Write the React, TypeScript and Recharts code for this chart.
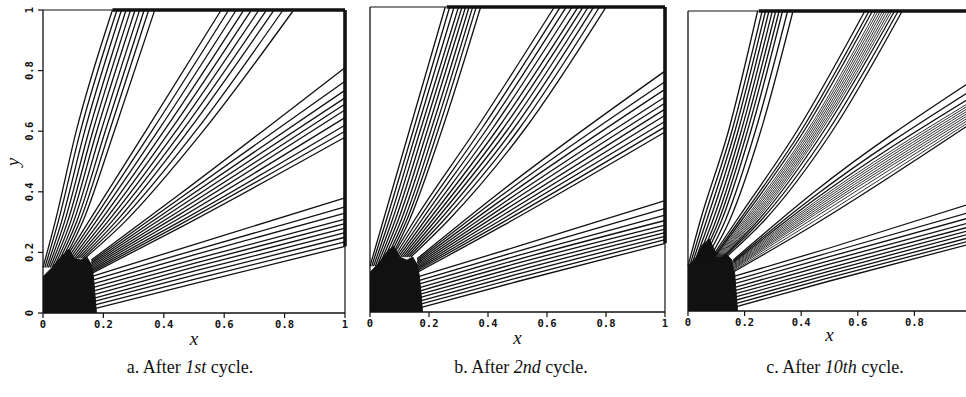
import React from 'react';
import { ComposedChart, Line, Area, XAxis, YAxis } from 'recharts';

type Pt = { x: number; y: number };

const axisTicks = [0, 0.2, 0.4, 0.6, 0.8, 1];
const cutTicks = [0, 0.2, 0.4, 0.6, 0.8];

// a. After 1st cycle
// steep fan (ends on top edge): x at y = 0.15 / 0.3 / 0.6 / 1
const aSteepFoot = [0.0, 0.006, 0.012, 0.018, 0.024, 0.03, 0.036, 0.042, 0.048, 0.055];
const aSteepLow = [0.04, 0.05, 0.061, 0.071, 0.081, 0.091, 0.101, 0.111, 0.121, 0.131];
const aSteepMid = [0.11, 0.124, 0.138, 0.152, 0.165, 0.178, 0.192, 0.206, 0.22, 0.236];
const aSteepTop = [0.23, 0.245, 0.26, 0.275, 0.29, 0.305, 0.32, 0.335, 0.35, 0.37];
// diagonal fan: x at y = 0.18 / 0.3 / 0.6 / 1
const aDiagFoot = [0.075, 0.082, 0.089, 0.096, 0.103, 0.11, 0.117, 0.124, 0.131, 0.138];
const aDiagLow = [0.15, 0.162, 0.174, 0.187, 0.2, 0.213, 0.226, 0.24, 0.254, 0.27];
const aDiagMid = [0.34, 0.36, 0.38, 0.4, 0.42, 0.44, 0.46, 0.48, 0.505, 0.53];
const aDiagTop = [0.59, 0.615, 0.64, 0.665, 0.69, 0.715, 0.74, 0.765, 0.795, 0.83];
// upper flat fan (ends on right edge): y at x = 0.16 / 0.45 / 1
const aUpperFoot = [0.175, 0.17, 0.165, 0.16, 0.155, 0.15, 0.145, 0.14, 0.135, 0.13];
const aUpperMid = [0.39, 0.376, 0.362, 0.349, 0.336, 0.324, 0.312, 0.3, 0.29, 0.28];
const aUpperEnd = [0.81, 0.765, 0.735, 0.71, 0.69, 0.67, 0.645, 0.62, 0.6, 0.58];
// lower flat fan: y at x = 0.165 / 0.5 / 1
const aLowerFoot = [0.122, 0.109, 0.096, 0.084, 0.072, 0.06, 0.048, 0.037, 0.025, 0.013];
const aLowerMid = [0.226, 0.207, 0.192, 0.177, 0.164, 0.151, 0.138, 0.125, 0.111, 0.097];
const aLowerEnd = [0.38, 0.35, 0.33, 0.31, 0.295, 0.28, 0.265, 0.25, 0.235, 0.22];
// dark knot of contours near the origin (upper outline)
const aBlob: Pt[] = [
  { x: 0, y: 0.12 }, { x: 0.03, y: 0.15 }, { x: 0.06, y: 0.185 }, { x: 0.085, y: 0.21 },
  { x: 0.105, y: 0.18 }, { x: 0.125, y: 0.175 }, { x: 0.145, y: 0.185 }, { x: 0.16, y: 0.16 },
  { x: 0.167, y: 0.12 }, { x: 0.172, y: 0.06 }, { x: 0.177, y: 0 },
];

// b. After 2nd cycle
const bSteepFoot = [0.0, 0.006, 0.012, 0.018, 0.024, 0.03, 0.036, 0.042, 0.048, 0.055];
const bSteepLow = [0.045, 0.055, 0.065, 0.075, 0.085, 0.095, 0.105, 0.115, 0.124, 0.133];
const bSteepMid = [0.135, 0.148, 0.16, 0.172, 0.184, 0.196, 0.208, 0.22, 0.232, 0.245];
const bSteepTop = [0.255, 0.27, 0.285, 0.3, 0.312, 0.324, 0.336, 0.348, 0.36, 0.375];
const bDiagFoot = [0.075, 0.082, 0.089, 0.096, 0.103, 0.11, 0.117, 0.124, 0.131, 0.138];
const bDiagLow = [0.15, 0.162, 0.174, 0.186, 0.198, 0.21, 0.222, 0.235, 0.249, 0.265];
const bDiagMid = [0.36, 0.378, 0.396, 0.414, 0.432, 0.45, 0.468, 0.486, 0.505, 0.525];
const bDiagTop = [0.625, 0.645, 0.665, 0.685, 0.705, 0.722, 0.74, 0.758, 0.778, 0.8];
const bUpperFoot = [0.175, 0.17, 0.165, 0.16, 0.155, 0.15, 0.145, 0.14, 0.135, 0.13];
const bUpperMid = [0.4, 0.385, 0.37, 0.356, 0.343, 0.33, 0.317, 0.305, 0.294, 0.283];
const bUpperEnd = [0.79, 0.755, 0.73, 0.705, 0.685, 0.665, 0.645, 0.625, 0.607, 0.59];
const bLowerFoot = [0.116, 0.103, 0.091, 0.079, 0.068, 0.057, 0.046, 0.035, 0.024, 0.013];
const bLowerMid = [0.215, 0.199, 0.185, 0.172, 0.16, 0.148, 0.136, 0.124, 0.112, 0.1];
const bLowerEnd = [0.365, 0.34, 0.318, 0.3, 0.285, 0.272, 0.26, 0.248, 0.237, 0.225];
const bBlob: Pt[] = [
  { x: 0, y: 0.13 }, { x: 0.03, y: 0.16 }, { x: 0.06, y: 0.2 }, { x: 0.08, y: 0.215 },
  { x: 0.1, y: 0.18 }, { x: 0.125, y: 0.17 }, { x: 0.145, y: 0.18 }, { x: 0.16, y: 0.155 },
  { x: 0.167, y: 0.12 }, { x: 0.173, y: 0.06 }, { x: 0.178, y: 0 },
];

// c. After 10th cycle (dense grey cores in the two middle fans)
const cSteepFoot = [0.0, 0.006, 0.012, 0.018, 0.024, 0.03, 0.036, 0.042, 0.05, 0.058];
const cSteepLow = [0.043, 0.054, 0.065, 0.076, 0.087, 0.098, 0.108, 0.118, 0.131, 0.146];
const cSteepMid = [0.143, 0.155, 0.166, 0.177, 0.188, 0.199, 0.21, 0.222, 0.238, 0.257];
const cSteepTop = [0.246, 0.262, 0.274, 0.286, 0.298, 0.31, 0.322, 0.334, 0.352, 0.371];
const cDiagFoot = [0.085, 0.09, 0.094, 0.098, 0.101, 0.104, 0.107, 0.11, 0.113, 0.116, 0.119, 0.123, 0.128, 0.135];
const cDiagLow = [0.17, 0.18, 0.188, 0.196, 0.202, 0.208, 0.214, 0.22, 0.226, 0.232, 0.238, 0.246, 0.256, 0.268];
const cDiagMid = [0.385, 0.399, 0.41, 0.421, 0.428, 0.435, 0.442, 0.449, 0.456, 0.463, 0.47, 0.48, 0.495, 0.51];
const cDiagTop = [0.625, 0.64, 0.652, 0.664, 0.672, 0.68, 0.688, 0.696, 0.704, 0.712, 0.72, 0.73, 0.743, 0.757];
const cUpperFoot = [0.17, 0.166, 0.162, 0.159, 0.156, 0.153, 0.15, 0.147, 0.144, 0.141, 0.138, 0.134, 0.13];
const cUpperMid = [0.4, 0.385, 0.373, 0.364, 0.357, 0.35, 0.343, 0.336, 0.329, 0.322, 0.313, 0.302, 0.29];
const cUpperEnd = [0.765, 0.735, 0.712, 0.698, 0.69, 0.682, 0.674, 0.666, 0.658, 0.65, 0.642, 0.634, 0.625];
const cLowerFoot = [0.116, 0.103, 0.091, 0.079, 0.068, 0.057, 0.046, 0.035, 0.024, 0.013];
const cLowerMid = [0.21, 0.195, 0.181, 0.168, 0.156, 0.144, 0.133, 0.122, 0.111, 0.1];
const cLowerEnd = [0.358, 0.33, 0.312, 0.296, 0.282, 0.27, 0.258, 0.246, 0.235, 0.224];
const cBlob: Pt[] = [
  { x: 0, y: 0.15 }, { x: 0.03, y: 0.18 }, { x: 0.05, y: 0.22 }, { x: 0.075, y: 0.24 },
  { x: 0.095, y: 0.2 }, { x: 0.115, y: 0.185 }, { x: 0.135, y: 0.19 }, { x: 0.155, y: 0.17 },
  { x: 0.165, y: 0.125 }, { x: 0.17, y: 0.06 }, { x: 0.175, y: 0 },
];

// where the contours pile up on the top / right edge
const topPileStart = { a: 0.23, b: 0.26, c: 0.25 };
const rightPileFrom = { a: 0.22, b: 0.225, c: 0.224 };

// ---- builders ----
const steep = (foot: number[], footY: number, low: number[], mid: number[], top: number[]): Pt[][] =>
  top.map((_, i) => [
    { x: foot[i], y: footY },
    { x: low[i], y: 0.3 },
    { x: mid[i], y: 0.6 },
    { x: top[i], y: 1 },
  ]);

const flat = (foot: number[], footX: number, mid: number[], midX: number, end: number[]): Pt[][] =>
  end.map((_, i) => [
    { x: footX, y: foot[i] },
    { x: midX, y: mid[i] },
    { x: 1, y: end[i] },
  ]);

const tickFont = {
  fontFamily: '"DejaVu Sans Mono", monospace',
  fontSize: 10.5,
  fontWeight: 700,
  fill: '#111',
};

const RotatedTick = (props: any) => {
  const { x, y, payload } = props;
  const cx = x - 3;
  return (
    <text x={cx} y={y} transform={`rotate(-90 ${cx} ${y})`} textAnchor="middle" style={tickFont}>
      {String(payload.value)}
    </text>
  );
};

interface PanelProps {
  left: number;
  width: number;
  height: number;
  marginTop: number;
  yAxisWidth: number;
  xAxisHeight: number;
  xTicks: number[];
  yLabels: boolean;
  lines: Pt[][];
  thinLines?: Pt[][];
  blob: Pt[];
  pileStart: number;
  pileFrom: number;
}

const Panel: React.FC<PanelProps> = ({
  left, width, height, marginTop, yAxisWidth, xAxisHeight, xTicks, yLabels, lines, thinLines = [], blob, pileStart, pileFrom,
}) => (
  <div style={{ position: 'absolute', left, top: 0 }}>
    <ComposedChart width={width} height={height} margin={{ top: marginTop, right: 5, bottom: 0, left: 0 }}>
      <XAxis
        type="number"
        dataKey="x"
        domain={[0, 1]}
        ticks={xTicks}
        tickFormatter={(v: number) => String(v)}
        tick={tickFont}
        tickSize={5}
        tickMargin={3}
        height={xAxisHeight}
        stroke="#111"
        axisLine={{ stroke: '#111', strokeWidth: 1.3 }}
        tickLine={{ stroke: '#111', strokeWidth: 1.2 }}
        label={{
          value: 'x',
          position: 'insideBottom',
          offset: 3,
          style: { fontFamily: '"Liberation Serif", serif', fontStyle: 'italic', fontSize: 19, fill: '#111' },
        }}
      />
      <YAxis
        type="number"
        dataKey="y"
        domain={[0, 1]}
        ticks={axisTicks}
        width={yAxisWidth}
        tick={yLabels ? <RotatedTick /> : false}
        tickSize={5}
        axisLine={{ stroke: '#111', strokeWidth: 1.3 }}
        tickLine={{ stroke: '#111', strokeWidth: 1.2 }}
      />
      <Area
        data={blob}
        dataKey="y"
        type="linear"
        stroke="#111"
        strokeWidth={1}
        fill="#111"
        fillOpacity={1}
        dot={false}
        activeDot={false}
        isAnimationActive={false}
      />
      {thinLines.map((pts, i) => (
        <Line
          key={`t${i}`}
          data={pts}
          dataKey="y"
          type="monotone"
          stroke="#333"
          strokeWidth={1}
          dot={false}
          activeDot={false}
          isAnimationActive={false}
        />
      ))}
      {lines.map((pts, i) => (
        <Line
          key={`l${i}`}
          data={pts}
          dataKey="y"
          type="monotone"
          stroke="#111"
          strokeWidth={1.3}
          dot={false}
          activeDot={false}
          isAnimationActive={false}
        />
      ))}
      {/* frame: thin top start, piled-up contours along top and right, thin right foot */}
      <Line data={[{ x: 0, y: 1 }, { x: pileStart, y: 1 }]} dataKey="y" stroke="#111" strokeWidth={1.2} dot={false} activeDot={false} isAnimationActive={false} />
      <Line data={[{ x: pileStart, y: 1 }, { x: 1, y: 1 }]} dataKey="y" stroke="#111" strokeWidth={3.6} dot={false} activeDot={false} isAnimationActive={false} />
      <Line data={[{ x: 1, y: pileFrom }, { x: 1, y: 1 }]} dataKey="y" stroke="#111" strokeWidth={3.6} dot={false} activeDot={false} isAnimationActive={false} />
      <Line data={[{ x: 1, y: 0 }, { x: 1, y: pileFrom }]} dataKey="y" stroke="#111" strokeWidth={1.2} dot={false} activeDot={false} isAnimationActive={false} />
    </ComposedChart>
  </div>
);

const captionStyle: React.CSSProperties = {
  position: 'absolute',
  top: 355,
  width: 300,
  textAlign: 'center',
  fontFamily: '"Liberation Serif", serif',
  fontSize: 18,
  lineHeight: '24px',
  color: '#111',
};

const panelALines = [
  ...steep(aSteepFoot, 0.15, aSteepLow, aSteepMid, aSteepTop),
  ...steep(aDiagFoot, 0.18, aDiagLow, aDiagMid, aDiagTop),
  ...flat(aUpperFoot, 0.16, aUpperMid, 0.45, aUpperEnd),
  ...flat(aLowerFoot, 0.165, aLowerMid, 0.5, aLowerEnd),
];
const panelBLines = [
  ...steep(bSteepFoot, 0.15, bSteepLow, bSteepMid, bSteepTop),
  ...steep(bDiagFoot, 0.18, bDiagLow, bDiagMid, bDiagTop),
  ...flat(bUpperFoot, 0.16, bUpperMid, 0.45, bUpperEnd),
  ...flat(bLowerFoot, 0.165, bLowerMid, 0.5, bLowerEnd),
];
const cDiag = steep(cDiagFoot, 0.18, cDiagLow, cDiagMid, cDiagTop);
const cUpper = flat(cUpperFoot, 0.16, cUpperMid, 0.45, cUpperEnd);
const panelCLines = [
  ...steep(cSteepFoot, 0.15, cSteepLow, cSteepMid, cSteepTop),
  ...cDiag.filter((_, i) => i < 3 || i > 10),
  ...cUpper.filter((_, i) => i < 3 || i > 11),
  ...flat(cLowerFoot, 0.165, cLowerMid, 0.5, cLowerEnd),
];
const panelCThin = [
  ...cDiag.filter((_, i) => i >= 3 && i <= 10),
  ...cUpper.filter((_, i) => i >= 3 && i <= 11),
];

export default function App() {
  return (
    <div style={{ position: 'absolute', left: 0, top: 0, width: 966, height: 397, overflow: 'hidden', background: '#fff' }}>
      <Panel left={0} width={350} height={348} marginTop={10} yAxisWidth={43} xAxisHeight={35} xTicks={axisTicks} yLabels
        lines={panelALines} blob={aBlob} pileStart={topPileStart.a} pileFrom={rightPileFrom.a} />
      <Panel left={345} width={325} height={347} marginTop={7} yAxisWidth={25} xAxisHeight={35} xTicks={axisTicks} yLabels={false}
        lines={panelBLines} blob={bBlob} pileStart={topPileStart.b} pileFrom={rightPileFrom.b} />
      <Panel left={663} width={313} height={344} marginTop={11} yAxisWidth={25} xAxisHeight={33} xTicks={cutTicks} yLabels={false}
        lines={panelCLines} thinLines={panelCThin} blob={cBlob} pileStart={topPileStart.c} pileFrom={rightPileFrom.c} />
      <div style={{
        position: 'absolute', left: 3, top: 152, width: 20, height: 20, lineHeight: '20px', textAlign: 'center',
        fontFamily: '"Liberation Serif", serif', fontStyle: 'italic', fontSize: 19, color: '#111',
        transform: 'rotate(-90deg)',
      }}>y</div>
      <div style={{ ...captionStyle, left: 190 - 150 }}>a. After <i>1st</i> cycle.</div>
      <div style={{ ...captionStyle, left: 521 - 150 }}>b. After <i>2nd</i> cycle.</div>
      <div style={{ ...captionStyle, left: 835 - 150 }}>c. After <i>10th</i> cycle.</div>
    </div>
  );
}
